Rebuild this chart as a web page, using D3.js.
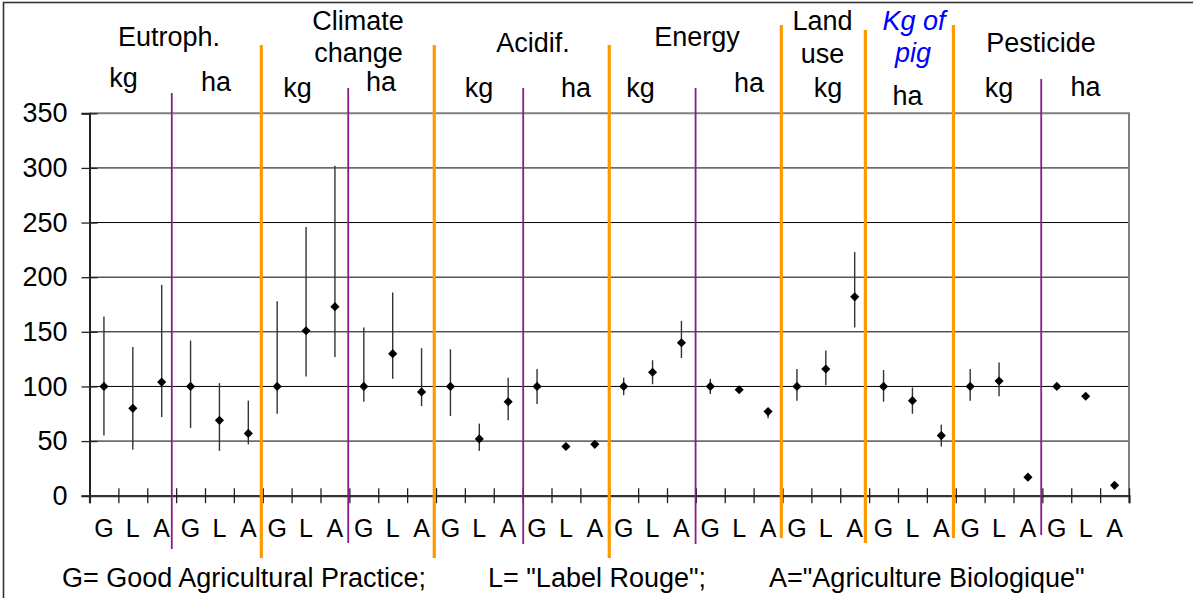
<!DOCTYPE html>
<html><head><meta charset="utf-8">
<script src="https://cdn.jsdelivr.net/npm/d3@7"></script>
<style>
html,body{margin:0;padding:0;background:#fff;}
svg{display:block;font-family:"Liberation Sans",Arial,sans-serif;}
</style></head>
<body>
<svg id="chart" width="1193" height="598"></svg>
<script>
// ---------- data ----------
const systems = ["G","L","A"];
const indicators = ["Eutroph. kg","Eutroph. ha","Climate kg","Climate ha","Acidif. kg","Acidif. ha",
  "Energy kg","Energy ha","Land use kg","Land use ha (kg of pig)","Pesticide kg","Pesticide ha"];
const categories = indicators.flatMap(ind => systems.map(s => ind + " " + s));
const means = [100,80,104, 100,69,57, 100,151,173, 100,130,95, 100,52,86, 100,45,47,
               100,113,140, 100,97,77, 100,116,182, 100,87,55, 100,105,17, 100,91,9.5];
const highs = [164,136,193, 142,103,87, 178,246,302, 154,186,135, 134,66,108, 116,45,47,
               108,124,160, 107,99,80, 116,133,223, 115,99,65, 116,122,17, 100,91,9.5];
const lows  = [55,42,72, 62,41,47, 75,109,127, 86,107,82, 73,41,69, 84,45,47,
               92,102,126, 93,96,71, 87,101,154, 86,75,45, 87,91,17, 100,91,9.5];
const yTicks = [0,50,100,150,200,250,300,350];
// separators: position in category units, kind
const separatorPos = [2.85, 5.95, 8.96, 11.94, 15.02, 18.0, 20.99, 23.96, 26.87, 29.92, 32.96];
const separatorKind = ["p","o","p","o","p","o","p","o","o","o","p"];
const legendTexts = ["G= Good Agricultural Practice;", "L= \"Label Rouge\";", "A=\"Agriculture Biologique\""];

// ---------- layout ----------
const svg = d3.select("#chart");
const L = 89.5, R = 1129, T = 113.3, B = 495.7;
const x = d3.scaleBand().domain(categories).range([L, R]).padding(0);
const xu = d3.scaleLinear().domain([0, categories.length]).range([L, R]);
const y = d3.scaleLinear().domain([0, 350]).range([B, T]);
const FONT = 27;

// outer frame
svg.append("rect").attr("x",3.5).attr("y",2.5).attr("width",1400).attr("height",800)
  .attr("fill","none").attr("stroke","#333").attr("stroke-width",1.6);

// gridlines
svg.append("g").selectAll("line").data(yTicks.filter(d => d > 0 && d < 350)).join("line")
  .attr("x1", L).attr("x2", R).attr("y1", d => y(d)).attr("y2", d => y(d))
  .attr("stroke","#000").attr("stroke-width",1);

// plot border (top and right)
svg.append("path").attr("d", `M${L},${y(350)}H${R}V${B}`)
  .attr("fill","none").attr("stroke","#808080").attr("stroke-width",2);

// y axis
const yAxis = svg.append("g").attr("transform",`translate(${L},0)`)
  .call(d3.axisLeft(y).tickValues(yTicks).tickSize(8).tickPadding(14).tickFormat(d3.format("d")));
yAxis.select(".domain").attr("stroke","#222").attr("stroke-width",2);
yAxis.selectAll(".tick line").attr("x1",-8).attr("x2",8).attr("stroke","#222").attr("stroke-width",1.3);
yAxis.selectAll(".tick text").attr("font-size",FONT).attr("fill","#000")
  .attr("font-family",'"Liberation Sans",Arial,sans-serif');

// x axis (boundary ticks)
const xAxis = svg.append("g").attr("transform",`translate(0,${B})`)
  .call(d3.axisBottom(xu).tickValues(d3.range(0, categories.length + 1)).tickSize(7.5).tickFormat(""));
xAxis.select(".domain").attr("stroke","#333").attr("stroke-width",2.2);
xAxis.selectAll(".tick line").attr("y1",-7.5).attr("y2",7.5).attr("stroke","#222").attr("stroke-width",1.3);

// x category labels
const xLab = svg.append("g").attr("transform",`translate(0,${B})`)
  .call(d3.axisBottom(x).tickSize(0).tickPadding(24).tickFormat(d => d.slice(-1)));
xLab.select(".domain").remove();
xLab.selectAll(".tick text").attr("font-size",25).attr("fill","#000")
  .attr("font-family",'"Liberation Sans",Arial,sans-serif');

// separators
const sepExtent = {o: null, p: null};
const sepTops = [93, 45, 88, 45, 88, 45, 88, 25, 30, 25, 79];
const sepBots = [549, 558, 543, 558, 544, 558, 544, 538, 543, 538, 535];
svg.append("g").selectAll("line").data(separatorPos).join("line")
  .attr("x1", d => xu(d)).attr("x2", d => xu(d))
  .attr("y1", (d,i) => sepTops[i]).attr("y2", (d,i) => sepBots[i])
  .attr("stroke", (d,i) => separatorKind[i] === "o" ? "#FF9900" : "#8B1A8B")
  .attr("stroke-width", (d,i) => separatorKind[i] === "o" ? 3.2 : 1.8);

// error bars
svg.append("g").selectAll("line").data(categories).join("line")
  .attr("x1", d => x(d) + x.bandwidth()/2).attr("x2", d => x(d) + x.bandwidth()/2)
  .attr("y1", (d,i) => y(highs[i])).attr("y2", (d,i) => y(lows[i]))
  .attr("stroke","#333").attr("stroke-width",1.4);

// markers
svg.append("g").selectAll("path").data(categories).join("path")
  .attr("d", d3.symbol().type(d3.symbolSquare).size(42))
  .attr("transform", (d,i) => `translate(${x(d) + x.bandwidth()/2},${y(means[i])}) rotate(45)`)
  .attr("fill","#000");

// headers
const headers = [
  {t:"Eutroph.", x:169, y:45.5}, {t:"kg", x:123.5, y:86.5}, {t:"ha", x:216, y:90.5},
  {t:"Climate", x:358, y:29.5}, {t:"change", x:358.5, y:61.5}, {t:"kg", x:297.5, y:96.5}, {t:"ha", x:381, y:90.5},
  {t:"Acidif.", x:533, y:51.5}, {t:"kg", x:479, y:96.5}, {t:"ha", x:576, y:96.5},
  {t:"Energy", x:697, y:45.5}, {t:"kg", x:640.5, y:96.5}, {t:"ha", x:749, y:91.5},
  {t:"Land", x:822.5, y:30}, {t:"use", x:822.5, y:62.5}, {t:"kg", x:828, y:96.5},
  {t:"Kg of", x:914, y:30, blue:true}, {t:"pig", x:913, y:61.5, blue:true}, {t:"ha", x:907.5, y:105},
  {t:"Pesticide", x:1041, y:52}, {t:"kg", x:999, y:96.5}, {t:"ha", x:1085.5, y:95.5}
];
svg.append("g").selectAll("text").data(headers).join("text")
  .attr("x", d => d.x).attr("y", d => d.y).attr("text-anchor","middle")
  .attr("font-size",FONT)
  .attr("font-style", d => d.blue ? "italic" : "normal")
  .attr("fill", d => d.blue ? "#0000FF" : "#000")
  .text(d => d.t);

// legend
const legendX = [62, 488, 769];
svg.append("g").selectAll("text").data(legendTexts).join("text")
  .attr("x", (d,i) => legendX[i]).attr("y", 587).attr("font-size",FONT).attr("fill","#000")
  .text(d => d);
</script>
</body></html>
